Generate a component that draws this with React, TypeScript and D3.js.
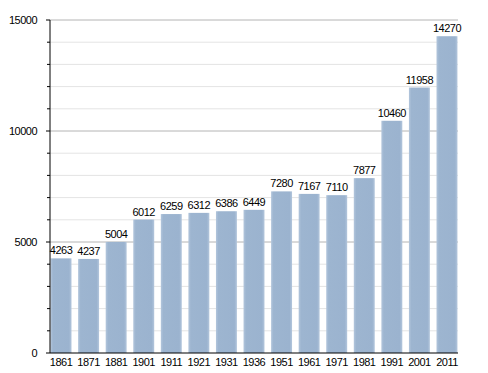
import React from "react"
import * as d3 from "d3"

const years = ["1861", "1871", "1881", "1901", "1911", "1921", "1931", "1936", "1951", "1961", "1971", "1981", "1991", "2001", "2011"]
const population = [4263, 4237, 5004, 6012, 6259, 6312, 6386, 6449, 7280, 7167, 7110, 7877, 10460, 11958, 14270]
const majorTicks = [0, 5000, 10000, 15000]
const minorTicks = d3.range(1000, 15000, 1000).filter(v => v % 5000 !== 0)

export default function App() {
  const W = 488
  const H = 373
  const left = 50
  const right = 458
  const top = 20
  const bottom = 353

  const x = d3.scaleBand().domain(years).range([left, right]).paddingInner(0.24).paddingOuter(0.02)
  const y = d3.scaleLinear().domain([0, 15000]).range([bottom, top])
  const font = "'Liberation Sans', Arial, sans-serif"

  return (
    <svg width={W} height={H} style={{ position: "absolute", left: 0, top: 0 }} fontFamily={font} letterSpacing={-0.5}>
      <defs>
        <linearGradient id="barGrad" x1="0" x2="1" y1="0" y2="0">
          <stop offset="0" stopColor="#b3c6dc" />
          <stop offset="0.12" stopColor="#9db5d0" />
          <stop offset="0.88" stopColor="#9bb3cf" />
          <stop offset="1" stopColor="#b3c6dc" />
        </linearGradient>
      </defs>
      <rect width={W} height={H} fill="#fff" />
      {minorTicks.map(v => (
        <g key={"m" + v}>
          <line x1={left} x2={right} y1={y(v)} y2={y(v)} stroke="#e4e4e4" />
          <line x1={left - 3} x2={left} y1={y(v)} y2={y(v)} stroke="#000" />
        </g>
      ))}
      {majorTicks.filter(v => v > 0).map(v => (
        <line key={"g" + v} x1={left} x2={right} y1={y(v)} y2={y(v)} stroke="#b4b4b4" />
      ))}
      {population.map((v, i) => (
        <g key={years[i]}>
          <rect x={x(years[i])} y={y(v)} width={x.bandwidth()} height={bottom - y(v)} fill="url(#barGrad)" />
          <text x={(x(years[i]) as number) + x.bandwidth() / 2} y={y(v) - 4} textAnchor="middle" fontSize={11} fill="#000">
            {v}
          </text>
          <text x={(x(years[i]) as number) + x.bandwidth() / 2} y={bottom + 13} textAnchor="middle" fontSize={11} fill="#000">
            {years[i]}
          </text>
        </g>
      ))}
      {majorTicks.map(v => (
        <g key={"t" + v}>
          <line x1={left - 4} x2={left} y1={y(v)} y2={y(v)} stroke="#000" />
          <text x={37} y={y(v) + 4} textAnchor="end" fontSize={11} fill="#000">
            {v}
          </text>
        </g>
      ))}
      <line x1={left} x2={left} y1={top} y2={bottom} stroke="#000" />
      <line x1={left} x2={right} y1={bottom} y2={bottom} stroke="#000" />
    </svg>
  )
}
